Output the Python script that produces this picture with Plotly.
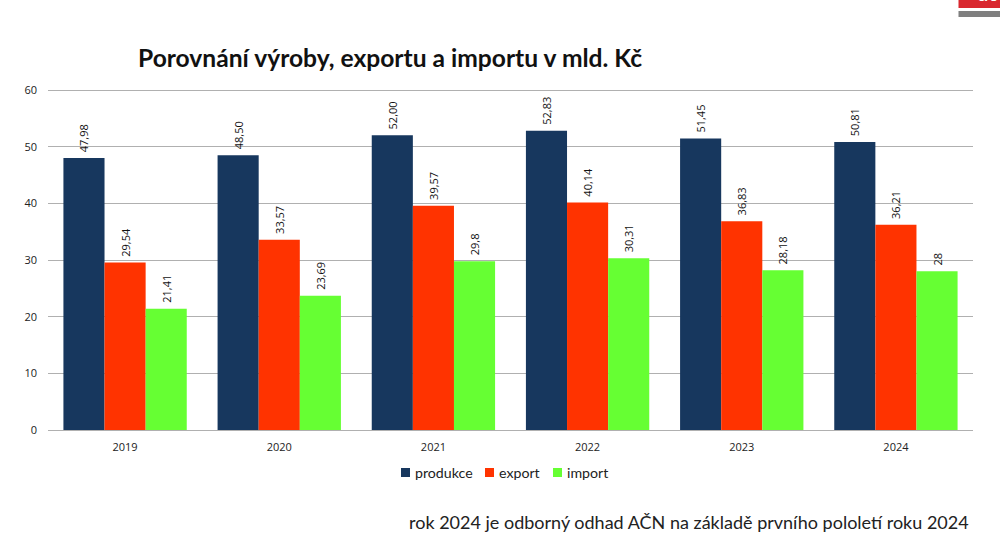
import plotly.graph_objects as go

roky = ['2019', '2020', '2021', '2022', '2023', '2024']
produkce = [47.98, 48.50, 52.00, 52.83, 51.45, 50.81]
export = [29.54, 33.57, 39.57, 40.14, 36.83, 36.21]
dovoz = [21.41, 23.69, 29.8, 30.31, 28.18, 28]
produkce_txt = ['47,98', '48,50', '52,00', '52,83', '51,45', '50,81']
export_txt = ['29,54', '33,57', '39,57', '40,14', '36,83', '36,21']
dovoz_txt = ['21,41', '23,69', '29,8', '30,31', '28,18', '28']
y_ticks = [0, 10, 20, 30, 40, 50, 60]

serie = [('produkce', produkce, produkce_txt, '#17375e'),
         ('export', export, export_txt, '#ff3300'),
         ('import', dovoz, dovoz_txt, '#66ff33')]

## plot area in page pixels, used for everything placed outside of it
## top is 2 px above the 60 line, plotly drops a gridline sitting on the edge
L, R, T, B = 48, 973, 88, 430
y_max = 60 * (B - T) / 340
def px(x):
    return (x - L) / (R - L)
def py(y):
    return (B - y) / (B - T)

## invisible lead lifts the rotated label off the bar
uvod = '<span style="color:rgba(0,0,0,0)">.</span>'

fig = go.Figure()
for nazev, hodnoty, popisky, barva in serie:
    fig.add_trace(go.Bar(x=roky, y=hodnoty, name=nazev, marker_color=barva,
                         marker_line_width=0, showlegend=False,
                         text=[uvod + p for p in popisky],
                         textposition='outside', textangle=-90, cliponaxis=False,
                         textfont=dict(family='Open Sans', size=11, color='#111111')))

## legend by hand, plotly leaves too wide a gap behind the swatch
legenda_x = [401, 485, 553]
shapes = [dict(type='rect', xref='paper', yref='paper', line_width=0, fillcolor='#d9282f',
               x0=px(958.5), x1=px(1000), y0=py(0), y1=py(8), layer='below'),
          dict(type='rect', xref='paper', yref='paper', line_width=0, fillcolor='#7f7f7f',
               x0=px(958.5), x1=px(1000), y0=py(11), y1=py(17), layer='below')]
annotations = [
    dict(text='<b>Porovnání výroby, exportu a importu v mld. Kč</b>',
         xref='paper', yref='paper', x=px(138), y=py(58), xanchor='left',
         yanchor='middle', showarrow=False, xshift=-2,
         font=dict(family='Lato', size=24.6, color='#111111')),
    dict(text='rok 2024 je odborný odhad AČN na základě prvního pololetí roku 2024',
         xref='paper', yref='paper', x=px(971), y=py(522), xanchor='right',
         yanchor='middle', showarrow=False,
         font=dict(family='Lato', size=18, color='#222222')),
    dict(text='<b>ač</b>', xref='paper', yref='paper', x=px(976), y=py(-7), xanchor='left',
         yanchor='middle', showarrow=False,
         font=dict(family='Lato', size=20, color='white')),
]
for (nazev, _, _, barva), x0 in zip(serie, legenda_x):
    shapes.append(dict(type='rect', xref='paper', yref='paper', line_width=0, fillcolor=barva,
                       x0=px(x0), x1=px(x0 + 9), y0=py(468), y1=py(477)))
    annotations.append(dict(text=nazev, xref='paper', yref='paper', x=px(x0 + 12), y=py(472),
                            xanchor='left', yanchor='middle', showarrow=False,
                            font=dict(family='Lato', size=14.2, color='#222222')))

fig.update_layout(
    width=1000, height=535,
    margin=dict(l=L, r=1000 - R, t=T, b=535 - B),
    paper_bgcolor='white', plot_bgcolor='white',
    barmode='group', bargap=0.2, bargroupgap=0,
    showlegend=False,
    xaxis=dict(type='category', categoryorder='array', categoryarray=roky,
               showline=True, linecolor='#b0b0b0', linewidth=1, ticks='', ticklabelstandoff=7,
               tickfont=dict(family='Open Sans', size=11, color='#222222')),
    yaxis=dict(range=[0, y_max], tickvals=y_ticks, showgrid=True, gridcolor='#b0b0b0',
               gridwidth=1, zeroline=False, ticks='', ticklabelstandoff=10,
               tickfont=dict(family='Open Sans', size=11, color='#222222')),
    shapes=shapes,
    annotations=annotations,
)
## body margin would shift the whole figure by 8 px
fig.write_html("out.html", config=dict(displayModeBar=False),
               post_script="document.body.style.margin='0';")
